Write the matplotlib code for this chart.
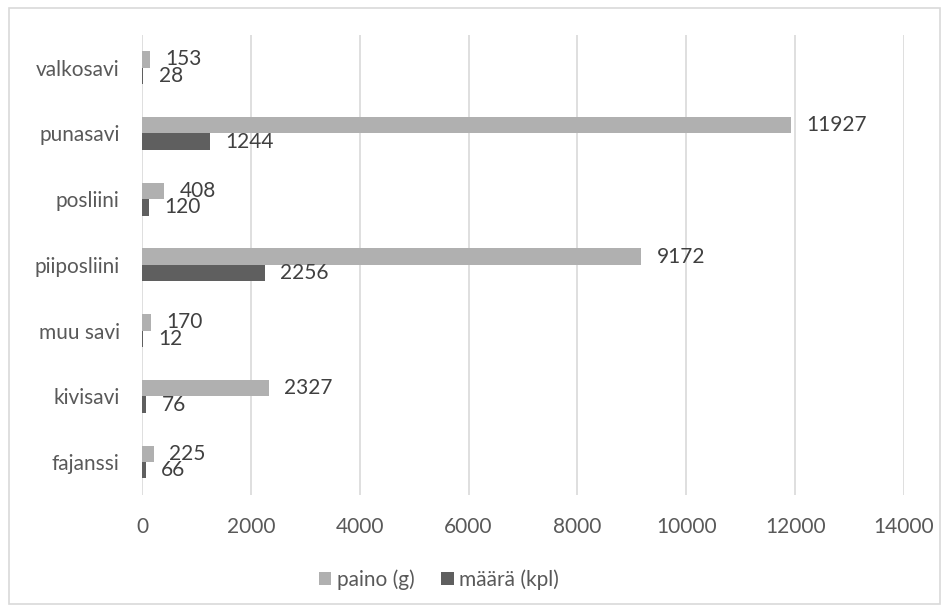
import matplotlib
matplotlib.use("Agg")
import matplotlib.pyplot as plt
import numpy as np

# Data
categories = ['fajanssi', 'kivisavi', 'muu savi', 'piiposliini', 'posliini', 'punasavi', 'valkosavi']
paino_g = [225, 2327, 170, 9172, 408, 11927, 153]
maara_kpl = [66, 76, 12, 2256, 120, 1244, 28]
x_ticks = [0, 2000, 4000, 6000, 8000, 10000, 12000, 14000]

plt.rcParams['font.family'] = ['Lato', 'DejaVu Sans']
text_col = '#595959'
fs = 15

fig = plt.figure(figsize=(9.49, 6.11), dpi=100)
ax = fig.add_axes([0.1496, 0.19, 0.803, 0.753])

y = np.arange(len(categories))
h = 0.25
b1 = ax.barh(y + h / 2, paino_g, height=h, color='#b0b0b0', label='paino (g)', zorder=3)
b2 = ax.barh(y - h / 2, maara_kpl, height=h, color='#5f5f5f', label='määrä (kpl)', zorder=3)

# data labels at bar ends
for bars, vals in ((b1, paino_g), (b2, maara_kpl)):
    for bar, v in zip(bars, vals):
        ax.annotate(str(v), (bar.get_width(), bar.get_y() + bar.get_height() / 2),
                    xytext=(11, 0), textcoords='offset points', va='center', ha='left',
                    fontsize=fs, color='#404040')

ax.set_xlim(0, 14000)
ax.set_ylim(-0.5, len(categories) - 0.5)
ax.set_xticks(x_ticks)
ax.set_yticks(y)
ax.set_yticklabels(categories)
ax.tick_params(axis='both', length=0, labelsize=fs, colors=text_col)
ax.tick_params(axis='x', pad=16)
ax.tick_params(axis='y', pad=16)
ax.grid(axis='x', color='#d9d9d9', linewidth=1.2, zorder=0)
for s in ax.spines.values():
    s.set_visible(False)

leg = fig.legend(handles=[b1, b2], loc='center', bbox_to_anchor=(0.4626, 0.051), ncol=2,
                 frameon=False, fontsize=fs, handlelength=0.6, handleheight=0.6,
                 handletextpad=0.25, columnspacing=1.3)
for t in leg.get_texts():
    t.set_color(text_col)

# chart border
fig.patches.append(plt.Rectangle((0.009, 0.012), 0.982, 0.975, transform=fig.transFigure,
                                 fill=False, edgecolor='#d9d9d9', linewidth=1.2))

fig.savefig('out.png', dpi=100)
